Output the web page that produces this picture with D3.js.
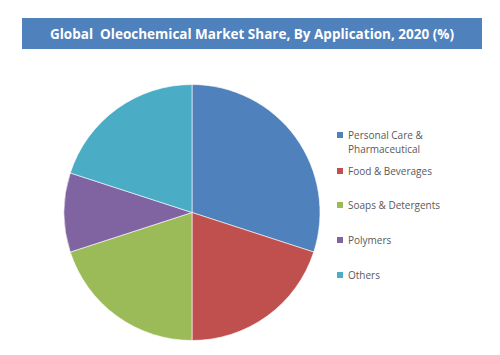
<!DOCTYPE html>
<html><head><meta charset="utf-8">
<script src="https://cdn.jsdelivr.net/npm/d3@7"></script>
<style>body{margin:0;background:#fff}svg{display:block}</style>
</head><body>
<svg id="c" width="500" height="355"></svg>
<script>
const categories = ["Personal Care & Pharmaceutical","Food & Beverages","Soaps & Detergents","Polymers","Others"];
const legendLines = [["Personal Care &","Pharmaceutical"],["Food & Beverages"],["Soaps & Detergents"],["Polymers"],["Others"]];
const values = [30,20,20,10,20];
const colors = ["#4F81BD","#C0504D","#9BBB59","#8064A2","#4BACC6"];
const title = "Global  Oleochemical Market Share, By Application, 2020 (%)";

const svg = d3.select("#c");
svg.append("rect").attr("x",22).attr("y",18).attr("width",460).attr("height",31).attr("fill","#4F81BD");
svg.append("text").attr("x",252).attr("y",39).attr("text-anchor","middle")
  .attr("font-family","'Open Sans', sans-serif").attr("font-weight","bold").attr("font-size",13.5)
  .attr("fill","#fff").style("white-space","pre").text(title);

const pie = d3.pie().sort(null).value(d=>d)(values);
const arc = d3.arc().innerRadius(0).outerRadius(128);
const g = svg.append("g").attr("transform","translate(192,212.5)");
g.selectAll("path").data(pie).join("path").attr("d",arc)
  .attr("fill",(d,i)=>colors[i]).attr("stroke","#fff").attr("stroke-width",0.6);

const ys = [135,171,205,240,275];
const lg = svg.append("g");
categories.forEach((c,i)=>{
  lg.append("rect").attr("x",337).attr("y",ys[i]-3).attr("width",6).attr("height",6).attr("fill",colors[i]);
  const t = lg.append("text").attr("x",348).attr("y",ys[i]+4)
    .attr("font-family","'Open Sans', sans-serif").attr("font-size",10).attr("fill","#595959");
  legendLines[i].forEach((l,j)=>{
    t.append("tspan").attr("x",348).attr("dy",j?14:0).text(l);
  });
});
</script>
</body></html>
